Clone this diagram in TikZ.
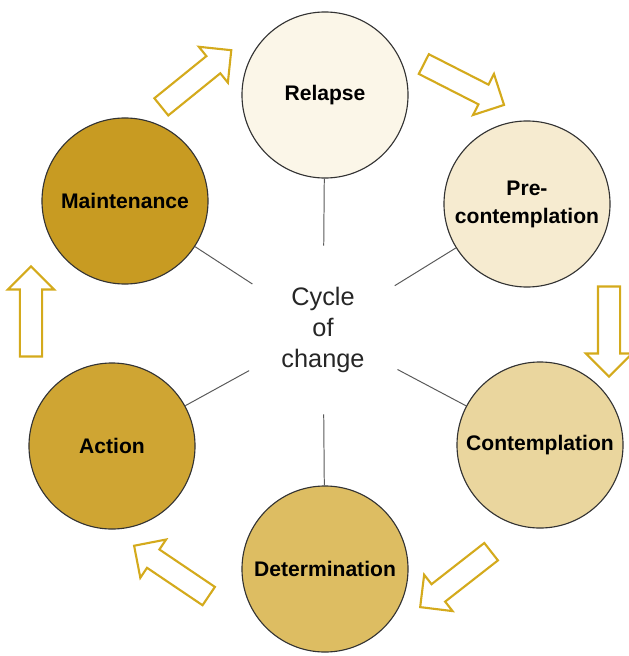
\documentclass[tikz,border=0pt]{standalone}
\usepackage{fontspec}
\setmainfont{Liberation Sans}
\usepackage{tikz}
\usetikzlibrary{shapes,arrows}
\usepackage{xcolor}
\definecolor{relapsefill}{HTML}{FBF6E8}
\definecolor{precontfill}{HTML}{F6EBD0}
\definecolor{contfill}{HTML}{EAD69E}
\definecolor{detfill}{HTML}{DDBD62}
\definecolor{actionfill}{HTML}{CFA533}
\definecolor{maintfill}{HTML}{C89B22}
\definecolor{arrowgold}{HTML}{D4AA1C}
\tikzset{
        stage/.style = {draw=black!80, circle, line width=0.8pt,
            minimum size=4.15cm, inner sep=0pt, align=center,
            font=\bfseries\fontsize{15}{20}\selectfont},
        hub/.style = {circle, minimum size=4.2cm, inner sep=0pt,
            align=center, text=black!85,
            font=\fontsize{18}{22}\selectfont},
        spoke/.style = {draw, black!65, line width=0.7pt},
        flow/.style = {single arrow, draw=arrowgold, fill=white,
            line width=1.5pt, inner xsep=0pt, inner ysep=0.25cm,
            minimum height=2.25cm, minimum width=1.15cm,
            single arrow head extend=0.3cm,
            single arrow tip angle=90},
    }

\begin{document}
\begin{tikzpicture}[x=0.025cm, y=-0.025cm]
    \useasboundingbox (0,0) rectangle (629,656);

    \node[hub] (hub) at (323,330) {Cycle\\of\\change};

    \node[stage, fill=relapsefill] (relapse) at (325,95) {Relapse};
    \node[stage, fill=precontfill] (precont) at (527,204) {Pre-\\contemplation};
    \node[stage, fill=contfill] (cont) at (540,445) {Contemplation};
    \node[stage, fill=detfill] (det) at (325,569) {Determination};
    \node[stage, fill=actionfill] (action) at (112,446) {Action};
    \node[stage, fill=maintfill] (maint) at (125,201) {Maintenance};

    \foreach \s in {relapse,precont,cont,det,action,maint}
        \draw[spoke] (hub) -- (\s);

    \node[flow, rotate=39] (f1) at (192,82) {};
    \node[flow, rotate=-27] (f2) at (459,82) {};
    \node[flow, rotate=-90] (f3) at (609,326) {};
    \node[flow, rotate=218] (f4) at (460,576) {};
    \node[flow, rotate=146] (f5) at (176,574) {};
    \node[flow, rotate=90] (f6) at (31,317) {};
\end{tikzpicture}
\end{document}
